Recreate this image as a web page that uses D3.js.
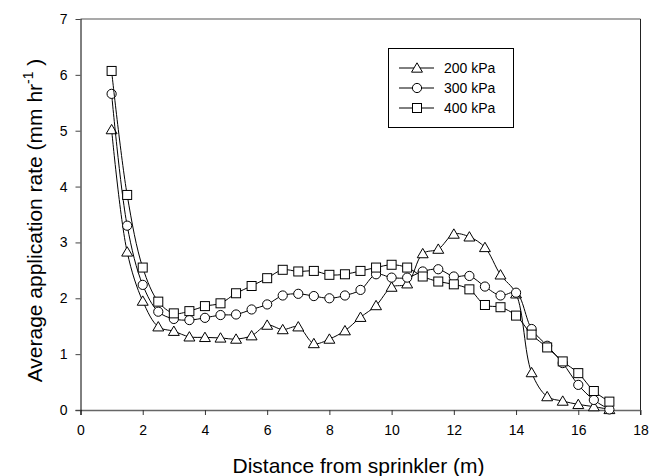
<!DOCTYPE html>
<html>
<head>
<meta charset="utf-8">
<script src="https://cdn.jsdelivr.net/npm/d3@7"></script>
<style>
  html, body { margin: 0; padding: 0; background: #fff; }
  svg { display: block; font-family: Arial, "Liberation Sans", sans-serif; }
</style>
</head>
<body>
<svg id="chart" width="659" height="476"></svg>
<script>
// ---- data ----
const distances = [1,1.5,2,2.5,3,3.5,4,4.5,5,5.5,6,6.5,7,7.5,8,8.5,9,9.5,10,10.5,11,11.5,12,12.5,13,13.5,14,14.5,15,15.5,16,16.5,17];
const rate200 = [5.02,2.83,1.95,1.49,1.41,1.31,1.30,1.29,1.27,1.33,1.52,1.44,1.49,1.19,1.27,1.42,1.66,1.87,2.20,2.26,2.80,2.88,3.15,3.10,2.91,2.42,2.08,0.67,0.24,0.16,0.10,0.06,0.01];
const rate300 = [5.66,3.30,2.24,1.76,1.63,1.61,1.65,1.70,1.71,1.80,1.89,2.05,2.08,2.04,2.00,2.05,2.15,2.43,2.37,2.37,2.48,2.52,2.39,2.40,2.21,2.05,2.10,1.45,1.15,0.84,0.45,0.18,0.01];
const rate400 = [6.07,3.85,2.55,1.94,1.73,1.77,1.86,1.91,2.09,2.22,2.36,2.51,2.48,2.49,2.42,2.43,2.49,2.55,2.60,2.55,2.39,2.30,2.25,2.16,1.88,1.84,1.69,1.35,1.12,0.87,0.66,0.34,0.15];
const seriesNames = ["200 kPa", "300 kPa", "400 kPa"];
const seriesSymbols = ["triangle", "circle", "square"];
const xTicks = [0,2,4,6,8,10,12,14,16,18];
const yTicks = [0,1,2,3,4,5,6,7];
const xTitle = "Distance from sprinkler (m)";

// ---- layout ----
const svg = d3.select("#chart");
const pL = 80.5, pR = 640.5, pT = 19, pB = 410;
const x = d3.scaleLinear().domain([0, 18]).range([pL, pR]);
const y = d3.scaleLinear().domain([0, 7]).range([pB, pT]);

const seriesValues = [rate200, rate300, rate400];
const series = seriesNames.map((name, i) => ({
  name, symbol: seriesSymbols[i],
  points: distances.map((d, j) => ({ x: d, y: seriesValues[i][j] }))
}));

// frame top & right
svg.append("line").attr("x1", pL).attr("x2", pR).attr("y1", pT).attr("y2", pT)
  .attr("stroke", "#555").attr("stroke-width", 1.2);
svg.append("line").attr("x1", pR).attr("x2", pR).attr("y1", pT).attr("y2", pB + 5)
  .attr("stroke", "#222").attr("stroke-width", 1);

// x axis
const xAxis = svg.append("g").attr("transform", `translate(0,${pB})`)
  .call(d3.axisBottom(x).tickValues(xTicks).tickFormat(d3.format("d")).tickSize(5).tickPadding(10));
xAxis.select(".domain").attr("stroke", "#666").attr("stroke-width", 1.4).attr("d", `M${pL - 5},0.5H${pR}`);
xAxis.selectAll(".tick line").attr("stroke", "#333");
xAxis.selectAll(".tick text").attr("font-size", 14).attr("fill", "#000")
  .attr("font-family", "Arial, 'Liberation Sans', sans-serif");

// y axis
const yAxis = svg.append("g").attr("transform", `translate(${pL},0)`)
  .call(d3.axisLeft(y).tickValues(yTicks).tickFormat(d3.format("d")).tickSize(5).tickPadding(8));
yAxis.select(".domain").attr("stroke", "#000").attr("d", `M0.5,${pT}V${pB + 5}`);
yAxis.selectAll(".tick line").attr("stroke", "#444");
yAxis.selectAll(".tick text").attr("font-size", 14).attr("fill", "#000")
  .attr("font-family", "Arial, 'Liberation Sans', sans-serif");

// titles
svg.append("text").attr("x", (pL + pR) / 2 - 2).attr("y", 473)
  .attr("text-anchor", "middle").attr("font-size", 21).text(xTitle);

const yt = svg.append("text")
  .attr("transform", `translate(42,${(pT + pB) / 2 + 6}) rotate(-90)`)
  .attr("text-anchor", "middle").attr("font-size", 21);
yt.append("tspan").text("Average application rate (mm hr");
yt.append("tspan").attr("font-size", 14).attr("dy", -9).text("-1");
yt.append("tspan").attr("dy", 9).text(" )");

// symbols
function drawSymbol(g, type, cx, cy) {
  if (type === "triangle") {
    const s = 5.2;
    g.append("path")
      .attr("d", `M${cx},${cy - s}L${cx + s * 1.05},${cy + s * 0.8}L${cx - s * 1.05},${cy + s * 0.8}Z`)
      .attr("fill", "#fff").attr("stroke", "#000").attr("stroke-width", 1);
  } else if (type === "circle") {
    g.append("circle").attr("cx", cx).attr("cy", cy).attr("r", 4.6)
      .attr("fill", "#fff").attr("stroke", "#000").attr("stroke-width", 1);
  } else {
    g.append("rect").attr("x", cx - 4.5).attr("y", cy - 4.5).attr("width", 9).attr("height", 9)
      .attr("fill", "#fff").attr("stroke", "#000").attr("stroke-width", 1);
  }
}

const line = d3.line().x(d => x(d.x)).y(d => y(d.y)).curve(d3.curveCatmullRom.alpha(0.5));

series.forEach(s => {
  const g = svg.append("g");
  g.append("path").attr("d", line(s.points)).attr("fill", "none")
    .attr("stroke", "#000").attr("stroke-width", 1);
  s.points.forEach(p => drawSymbol(g, s.symbol, x(p.x), y(p.y)));
});

// legend
const lg = svg.append("g");
lg.append("rect").attr("x", 388.5).attr("y", 48.5).attr("width", 125).attr("height", 79)
  .attr("fill", "#fff").attr("stroke", "#000").attr("stroke-width", 1);
series.forEach((s, i) => {
  const cy = 68 + i * 20;
  lg.append("line").attr("x1", 399).attr("x2", 434).attr("y1", cy).attr("y2", cy)
    .attr("stroke", "#000").attr("stroke-width", 1);
  drawSymbol(lg, s.symbol, 417, cy);
  lg.append("text").attr("x", 444).attr("y", cy + 5).attr("font-size", 14).text(s.name);
});
</script>
</body>
</html>
